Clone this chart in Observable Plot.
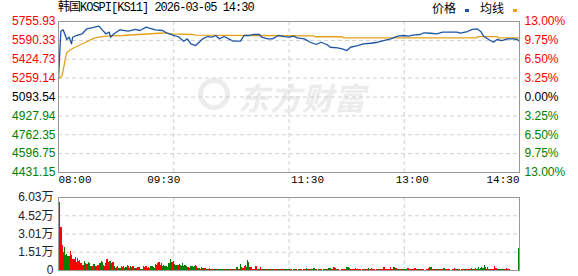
<!DOCTYPE html>
<html><head><meta charset="utf-8">
<script src="https://cdn.jsdelivr.net/npm/d3@7"></script>
<script src="https://cdn.jsdelivr.net/npm/@observablehq/plot@0.6"></script>
<style>
body{margin:0;background:#fff;}
#wrap{position:relative;width:578px;height:276px;overflow:hidden;background:#fff;}
#title{position:absolute;left:58px;top:1px;font-size:12px;font-family:"Liberation Mono","Noto Sans CJK SC",monospace;letter-spacing:-1px;color:#000;white-space:nowrap;line-height:14px;}
#legend{position:absolute;left:432px;top:1px;font-size:12px;font-family:"Noto Sans CJK SC",sans-serif;color:#000;white-space:nowrap;line-height:14px;}
#legend .sw{display:inline-block;width:4px;height:3px;margin:0 11px 0 9px;vertical-align:1px;}
#wm{position:absolute;left:238px;top:74px;font-size:31px;font-weight:bold;font-style:italic;font-family:"Noto Sans CJK SC",sans-serif;color:#ececec;white-space:nowrap;letter-spacing:1px;}
#wmlogo{position:absolute;left:198px;top:78px;width:32px;height:32px;border-radius:50%;border:5px solid #ececec;box-sizing:border-box;}
#p1,#p2{position:absolute;left:0;}
#p1{top:0;} #p2{top:190px;}
</style>
</head><body>
<div id="wrap">
  <div id="wmlogo"></div>
  <div id="wm">东方财富</div>
  <div id="p1"></div>
  <div id="p2"></div>
  <div id="title">韩国KOSPI[KS11] 2026-03-05 14:30</div>
  <div id="legend">价格<span class="sw" style="background:#1c55a4"></span>均线<span class="sw" style="background:#e3a21a;margin-right:0"></span></div>
</div>
<script>
// ---- data ----
const prevClose = 5093.54;
const priceTicks = [5755.93, 5590.33, 5424.73, 5259.14, 5093.54, 4927.94, 4762.35, 4596.75, 4431.15];
const pctLabels = ["13.00%","9.75%","6.50%","3.25%","0.00%","3.25%","6.50%","9.75%","13.00%"];
const timeLabels = ["08:00","09:30","11:30","13:00","14:30"];
const timeTicks = [0, 97.5, 195, 292.5, 390];
const volTicks = [6.03, 4.52, 3.01, 1.51, 0];
const volLabels = ["6.03万","4.52万","3.01万","1.51万","0"];

const priceMin = [0,2,4,7,9,11,12,15,20,24,28,34,37,40,43,44,47,52,59,65,69,74,79,82,88,92,95,98,102,106,109,112,116,119,122,126,130,133,136,140,144,148,154,157,161,165,170,172,177,181,186,191,195,199,202,208,213,218,222,227,230,236,240,244,247,253,258,264,270,275,281,287,292,296,301,306,309,315,320,325,332,337,340,346,350,354,357,360,364,368,371,375,380,385,388,390];
const priceVal = [5256,5670,5682,5598,5618,5560,5618,5633,5648,5692,5701,5715,5683,5648,5662,5618,5648,5683,5671,5686,5677,5706,5692,5683,5677,5653,5642,5633,5618,5583,5604,5560,5545,5574,5604,5624,5618,5633,5604,5624,5604,5583,5583,5633,5633,5642,5642,5618,5604,5604,5633,5624,5618,5627,5613,5604,5574,5554,5574,5554,5530,5525,5516,5501,5530,5545,5560,5565,5574,5589,5604,5627,5633,5627,5638,5642,5657,5653,5648,5662,5662,5662,5653,5668,5686,5692,5671,5624,5598,5574,5598,5589,5604,5604,5598,5583];

const avgMin = [0,2,3,5,6,7,10,14,19,23,27,31,37,43,54,68,85,90,96,113,116,216,217,240,241,354,355,371,372,390];
const avgVal = [5256,5270,5282,5385,5443,5481,5508,5530,5554,5574,5595,5613,5624,5630,5633,5642,5653,5657,5648,5642,5636,5630,5622,5622,5613,5613,5624,5624,5613,5613];

// volume in 万, one bar per minute starting at minute 1
const volume = [
5.64,3.55,2.06,1.51,1.90,1.24,1.32,1.16,1.16,1.57,
1.24,0.91,0.91,1.07,0.70,1.02,0.77,0.83,0.55,0.41,
0.45,0.74,0.61,0.50,0.63,0.55,0.36,0.33,0.33,0.50,
0.33,0.33,0.41,0.41,0.55,0.74,0.63,0.41,0.30,0.55,
0.91,0.69,0.74,0.74,0.60,0.66,0.36,0.19,0.25,0.33,
0.20,0.19,0.36,0.22,0.33,0.20,0.25,0.41,0.30,0.19,
0.36,0.28,0.30,0.14,0.14,0.14,0.25,0.25,0.10,0.08,
0.08,0.33,0.22,0.36,0.19,0.28,0.20,0.36,0.30,0.25,
0.15,0.47,0.41,0.55,0.66,0.44,0.55,0.36,0.41,0.33,
0.33,0.25,0.55,0.55,0.91,0.63,0.74,0.47,0.41,
0.45,0.41,0.47,0.41,0.36,0.60,0.30,0.44,0.36,0.25,
0.22,0.19,0.33,0.36,0.25,0.30,0.41,0.33,0.19,0.19,
0.08,0.25,0.14,0.19,0.14,0.08,0.08,0.08,0.14,0.06,
0.06,0.08,0.05,0.08,0.05,0.08,0.05,0.05,0.05,0.11,
0.05,0.05,0.08,0.05,0.11,0.05,0.05,0.05,0.11,0.05,
0.05,0.22,0.11,0.05,0.50,0.28,0.14,0.33,0.41,0.22,
0.83,0.63,0.28,0.28,0.11,0.05,0.05,0.33,0.08,0.11,
0.05,0.22,0.11,0.05,0.05,0.05,0.05,0.05,0.05,0.08,
0.05,0.05,0.05,0.05,0.05,0.05,0.05,0.05,0.05,0.05,
0.08,0.05,0.05,0.05,0.05,0.05,0.05,
0.05,0.04,0.05,0.06,0.05,0.04,0.05,0.06,0.05,0.04,
0.05,0.06,0.05,0.17,0.08,0.05,0.06,0.05,0.05,0.17,
0.08,0.05,0.04,0.05,0.06,0.05,0.04,0.05,0.06,0.05,
0.08,0.14,0.17,0.14,0.06,0.08,0.25,0.14,0.05,0.06,
0.05,0.04,0.05,0.06,0.05,0.08,0.06,0.25,0.25,0.14,
0.08,0.05,0.06,0.05,0.17,0.08,0.05,0.06,0.05,0.04,
0.05,0.06,0.05,0.05,0.08,0.14,0.06,0.05,0.14,0.06,
0.05,0.04,0.05,0.06,0.05,0.05,0.06,0.08,0.25,0.22,
0.06,0.05,0.05,0.08,0.22,0.08,0.22,0.22,0.14,0.14,
0.11,0.05,0.06,0.05,0.06,0.05,0.06,0.05,0.17,0.17,
0.08,0.05,0.06,0.05,0.17,0.14,0.08,0.05,0.06,0.05,
0.05,0.06,0.05,0.04,0.06,0.08,0.19,0.28,0.22,0.08,
0.05,0.06,0.05,0.05,0.06,0.05,0.06,0.05,0.08,0.14,
0.06,0.05,0.05,0.06,0.05,0.04,0.06,0.08,0.19,0.11,
0.05,0.06,0.05,0.04,0.05,0.06,0.05,0.05,0.06,0.05,
0.08,0.11,0.17,0.06,0.05,0.08,0.14,0.08,0.28,0.11,
0.17,0.28,0.14,0.44,0.28,0.11,0.28,0.08,0.06,0.05,
0.06,0.08,0.36,0.19,0.11,0.06,0.11,0.06,0.05,0.05,
0.05,0.06,0.19,0.08,0.06,0,0,0,0,0,
0,0,1.80];
// r = up minute (red), g = down minute (green)
const volumeDir = (
"rrrrgggggr"+"grrgrrrgrr"+"gggrgggrrg"+"rrrrgggrrg"+"rrggrrgrrr"+"gggrrgggrr"+"grrggrrrgg"+"grrrgrgggg"+"ggrrrrrggg"+"gggggrrgg"+
"grggrgrggr"+"rgggrgrrgg"+"rrgrrgrrrg"+"rrggrgrggg"+"rrgggrrggr"+"rgrggrrrgg"+"ggrgrgrrgg"+"rrrgggrrgr"+"rggrrgggrr"+"ggrgggr"+
"grrgrrgrrg"+"rrggrrgrgg"+"grrgrrgrgr"+"rgggrrrrgr"+"rgrrgrrggr"+"rgrrrrgrrg"+"rrgrrgrrgr"+"rgrrgrrrrr"+"rgrrrrggrr"+"rgrrgrgggr"+
"grrgrrrgrr"+"grrgrrrggr"+"rgrrgrrgrg"+"rrgrrgrrrr"+"grrgrrgrrg"+"rrrgrrrggg"+"gggggrrgrg"+"rrrrrgrgrg"+"rrrrrrrrrr"+"rrg").split("");

// ---- build ----
const price = priceMin.map((m, i) => ({m, v: priceVal[i]}));
const avg = avgMin.map((m, i) => ({m, v: avgVal[i]}));
const vols = volume.map((v, i) => ({m: i + 1, v, d: volumeDir[i] || "r"}));
const side = d => d > prevClose + 0.001 ? "up" : d < prevClose - 0.001 ? "down" : "flat";
const F = "Liberation Sans, Noto Sans CJK SC, sans-serif";
const MONO = "Liberation Mono, monospace";
const grid = {stroke: "#cfcfcf", strokeOpacity: 1, strokeDasharray: "4,3"};

const p1 = Plot.plot({
  width: 578, height: 190,
  marginTop: 21, marginBottom: 18, marginLeft: 58, marginRight: 59,
  x: {domain: [0, 390], axis: null},
  y: {domain: [4431.15, 5755.93], axis: null},
  color: {domain: ["up", "flat", "down"], range: ["#ff0000", "#000000", "#008000"]},
  style: {background: "transparent", overflow: "visible"},
  marks: [
    Plot.gridY(priceTicks.slice(1, -1), grid),
    Plot.gridX(timeTicks.slice(1, -1), grid),
    Plot.line(avg, {x: "m", y: "v", stroke: "#e3a21a", strokeWidth: 1.3}),
    Plot.line(price, {x: "m", y: "v", stroke: "#1c55a4", strokeWidth: 1.3}),
    Plot.frame({stroke: "#999"}),
    Plot.text(priceTicks, {y: d => d, frameAnchor: "left", textAnchor: "end", dx: -3, text: d => d.toFixed(2), fill: side, fontSize: 12, fontFamily: F}),
    Plot.text(priceTicks, {y: d => d, frameAnchor: "right", textAnchor: "start", dx: 5, text: (d, i) => pctLabels[i], fill: side, fontSize: 12, fontFamily: F}),
    Plot.text([0], {x: i => timeTicks[i], frameAnchor: "bottom", dy: 10, text: i => timeLabels[i], textAnchor: "start", fontSize: 11, fontFamily: MONO, fill: "#000"}),
    Plot.text([1], {x: i => timeTicks[i], frameAnchor: "bottom", dy: 10, dx: -10, text: i => timeLabels[i], textAnchor: "middle", fontSize: 11, fontFamily: MONO, fill: "#000"}),
    Plot.text([2], {x: i => timeTicks[i], frameAnchor: "bottom", dy: 10, dx: 2, text: i => timeLabels[i], textAnchor: "start", fontSize: 11, fontFamily: MONO, fill: "#000"}),
    Plot.text([3], {x: i => timeTicks[i], frameAnchor: "bottom", dy: 10, dx: 8, text: i => timeLabels[i], textAnchor: "middle", fontSize: 11, fontFamily: MONO, fill: "#000"}),
    Plot.text([4], {x: i => timeTicks[i], frameAnchor: "bottom", dy: 10, text: i => timeLabels[i], textAnchor: "end", fontSize: 11, fontFamily: MONO, fill: "#000"})
  ]
});
document.getElementById("p1").appendChild(p1);

const p2 = Plot.plot({
  width: 578, height: 86,
  marginTop: 7, marginBottom: 6, marginLeft: 58, marginRight: 59,
  x: {domain: [0, 390], axis: null},
  y: {domain: [0, 6.03], axis: null},
  color: {domain: ["r", "g"], range: ["#ff0000", "#008000"]},
  style: {background: "transparent", overflow: "visible"},
  marks: [
    Plot.gridY(volTicks.slice(1, -1), grid),
    Plot.gridX(timeTicks.slice(1, -1), grid),
    Plot.rectY(vols, {x1: "m", x2: d => d.m + 1, y: "v", fill: "d", shapeRendering: "crispEdges"}),
    Plot.frame({stroke: "#999"}),
    Plot.text(volTicks, {y: d => d, frameAnchor: "left", textAnchor: "end", dx: -5, text: (d, i) => volLabels[i], fill: "#222", fontSize: 12, fontFamily: F})
  ]
});
document.getElementById("p2").appendChild(p2);
</script>
</body></html>
